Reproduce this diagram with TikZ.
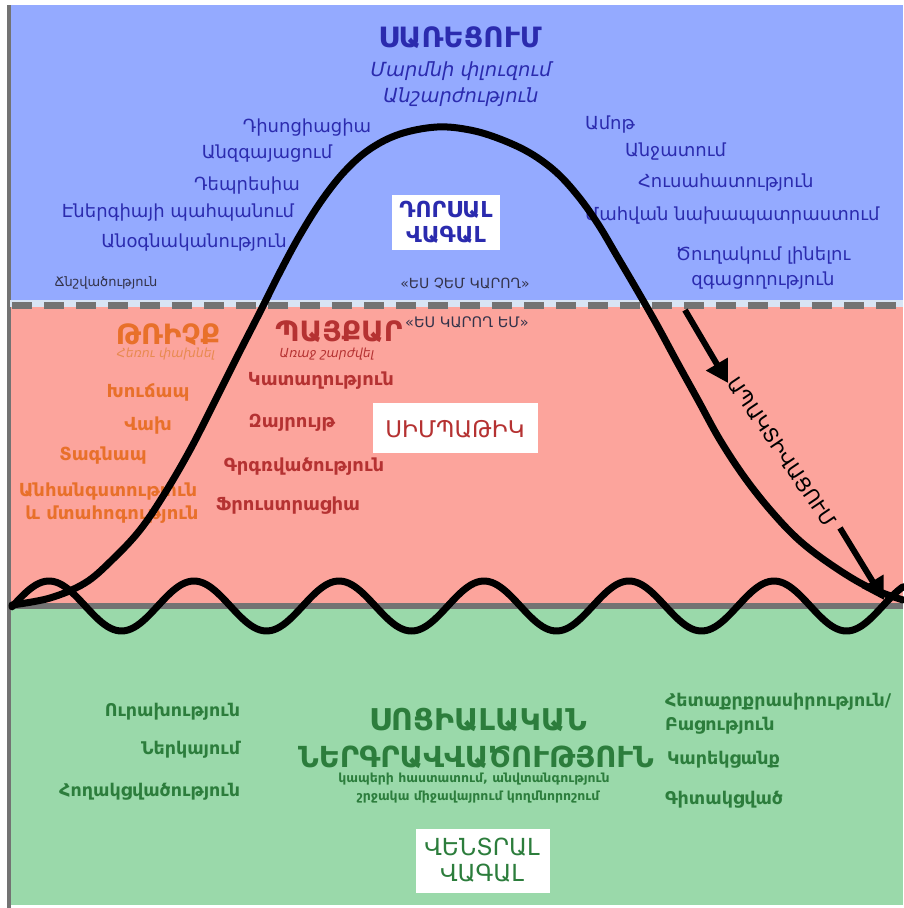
\documentclass[tikz,border=0pt]{standalone}
\usepackage{fontspec}
\setmainfont{DejaVu Sans}
\usetikzlibrary{arrows.meta}
\definecolor{bluebg}{HTML}{94AAFF}
\definecolor{redbg}{HTML}{FCA49C}
\definecolor{greenbg}{HTML}{9AD9AA}
\definecolor{bluetx}{HTML}{2B2BAE}
\definecolor{darktx}{HTML}{33334A}
\definecolor{orangetx}{HTML}{E8702A}
\definecolor{orangelt}{HTML}{E88A50}
\definecolor{redtx}{HTML}{B53232}
\definecolor{greentx}{HTML}{2C7D3C}
\definecolor{linegray}{HTML}{737373}
\definecolor{dashbg}{HTML}{D8E4F4}
\newcommand{\fsz}[1]{\fontsize{#1}{#1}\selectfont}
\tikzset{
  lbl/.style={inner sep=0pt, outer sep=0pt, align=center},
  bluel/.style={lbl, text=bluetx, font=\fsz{18}},
  orl/.style={lbl, text=orangetx, font=\bfseries\fsz{18}},
  redl/.style={lbl, text=redtx, font=\bfseries\fsz{18}},
  grl/.style={lbl, text=greentx, font=\bfseries\fsz{17.5}},
  wbox/.style={fill=white, draw=none, inner sep=0pt, outer sep=0pt},
  curve/.style={line width=7pt, black, line join=round, line cap=round},
  arr/.style={line width=6pt, -{Triangle[length=22pt,width=24pt]}}
}
\begin{document}
\begin{tikzpicture}[x=1pt,y=-1pt]
\useasboundingbox (0,0) rectangle (903,908);
\fill[white] (0,0) rectangle (903,908);
% bands
\fill[bluebg] (10,5) rectangle (903,303);
\fill[redbg] (10,303) rectangle (903,606);
\fill[greenbg] (10,606) rectangle (903,905);
\draw[linegray, line width=4pt] (9,5) -- (9,908);
\draw[dashbg, line width=7pt] (10,303) -- (903,303);
\draw[linegray, line width=7pt, dash pattern=on 20pt off 12pt] (12,305) -- (903,305);
\draw[linegray, line width=6pt] (10,606) -- (903,606);

% boxes
\fill[wbox] (392,195) rectangle (500,250);
\fill[wbox] (373,403) rectangle (538,453);
\fill[wbox] (416,829) rectangle (550,893);

% blue zone
\node[lbl, text=bluetx, font=\bfseries\fsz{28}] (freeze) at (460,38) {ՍԱՌԵՑՈՒՄ};
\node[lbl, text=bluetx, font=\itshape\fsz{19.5}] (fsub1) at (461,71) {Մարմնի փլուզում};
\node[lbl, text=bluetx, font=\itshape\fsz{19.5}] (fsub2) at (461,97) {Անշարժություն};
\node[bluel] (b1) at (307,128) {Դիսոցիացիա};
\node[bluel] (b2) at (267,154) {Անզգայացում};
\node[bluel] (b3) at (247,186) {Դեպրեսիա};
\node[bluel] (b4) at (178,213) {Էներգիայի պահպանում};
\node[bluel] (b5) at (194,243) {Անօգնականություն};
\node[lbl, text=darktx, font=\fsz{13}] (b6) at (106,283) {Ճնշվածություն};
\node[bluel, anchor=west] (r1) at (585,125) {Ամոթ};
\node[bluel, anchor=west] (r2) at (625,152) {Անջատում};
\node[bluel, anchor=west] (r3) at (638,183) {Հուսահատություն};
\node[bluel, anchor=west] (r4) at (585,216) {Մահվան նախապատրաստում};
\node[bluel] (r5) at (763,256) {Ծուղակում լինելու};
\node[bluel] (r6) at (763,281) {զգացողություն};
\node[lbl, text=bluetx, font=\bfseries\fsz{22}] (dorsal) at (446,222) {ԴՈՐՍԱԼ\\[3pt]ՎԱԳԱԼ};
\node[lbl, text=darktx, font=\fsz{14}] (cant) at (465,283) {«ԵՍ ՉԵՄ ԿԱՐՈՂ»};

% red zone
\node[lbl, text=darktx, font=\fsz{14.5}] (can) at (467,322) {«ԵՍ ԿԱՐՈՂ ԵՄ»};
\node[lbl, text=orangetx, font=\bfseries\fsz{28}] (flight) at (168,335) {ԹՌԻՉՔ};
\node[lbl, text=orangelt, font=\itshape\fsz{12.5}] (flsub) at (166,354) {Հեռու փախնել};
\node[lbl, text=redtx, font=\bfseries\fsz{28}] (fight) at (339,332) {ՊԱՅՔԱՐ};
\node[lbl, text=redtx, font=\itshape\fsz{12.5}] (fisub) at (327,354) {Առաջ շարժվել};
\node[orl] (o1) at (148,392) {Խուճապ};
\node[orl] (o2) at (148,426) {Վախ};
\node[orl] (o3) at (103,456) {Տագնապ};
\node[orl] (o4) at (108,492) {Անհանգստություն};
\node[orl] (o5) at (112,515) {և մտահոգություն};
\node[redl] (d1) at (321,381) {Կատաղություն};
\node[redl] (d2) at (292,423) {Զայրույթ};
\node[redl] (d3) at (304,467) {Գրգռվածություն};
\node[redl] (d4) at (288,506) {Ֆրուստրացիա};
\node[lbl, text=redtx, font=\fsz{23}] (symp) at (455,429) {ՍԻՄՊԱԹԻԿ};

% green zone
\node[grl, anchor=east] (g1) at (240,712) {Ուրախություն};
\node[grl, anchor=east] (g2) at (240,750) {Ներկայում};
\node[grl, anchor=east] (g3) at (240,792) {Հողակցվածություն};
\node[lbl, text=greentx, font=\bfseries\fsz{30}] (soc1) at (478,720) {ՍՈՑԻԱԼԱԿԱՆ};
\node[lbl, text=greentx, font=\bfseries\fsz{29}] (soc2) at (476,757) {ՆԵՐԳՐԱՎՎԱԾՈՒԹՅՈՒՆ};
\node[lbl, text=greentx, font=\bfseries\fsz{12.5}] (soc3) at (474,779) {կապերի հաստատում, անվտանգություն};
\node[lbl, text=greentx, font=\bfseries\fsz{12.5}] (soc4) at (478,797) {շրջակա միջավայրում կողմնորոշում};
\node[grl, anchor=west] (gr1) at (665,702) {Հետաքրքրասիրություն/};
\node[grl, anchor=west] (gr2) at (665,726) {Բացություն};
\node[grl, anchor=west] (gr3) at (667,760) {Կարեկցանք};
\node[grl, anchor=west] (gr4) at (665,800) {Գիտակցված};
\node[lbl, text=greentx, font=\fsz{23.5}] (ventral) at (482,860) {ՎԵՆՏՐԱԼ\\[3pt]ՎԱԳԱԼ};

% bell curve (drawn over the labels, as in the reference)
\draw[curve] plot[smooth, tension=0.6] coordinates {
 (12,605) (50,598) (85,583) (112,560) (140,530) (165,493) (190,450) (213,405)
 (237,357) (260,312) (280,272) (300,235) (322,200) (345,171) (370,149) (400,134)
 (437,127) (470,130) (500,139) (530,153) (556,172) (578,196) (598,224) (617,256)
 (637,290) (657,325) (677,362) (698,400) (720,440) (745,478) (772,512) (800,541)
 (833,566) (868,587) (903,600)};
% wave
\draw[curve] plot[domain=12:903, samples=300, smooth] (\x,{606-25*cos(2.48276*(\x-49))});

% arrows
\coordinate (a1) at (685,310);
\coordinate (a2) at (728,383);
\coordinate (a3) at (840,528);
\coordinate (a4) at (884,600);
\draw[arr] (a1) -- (a2);
\draw[arr] (a3) -- (a4);
\node[lbl, font=\fsz{20}, rotate=-56] (apak) at (782,452) {ԱՊԱԿՏԻՎԱՑՈՒՄ};
\end{tikzpicture}
\end{document}
